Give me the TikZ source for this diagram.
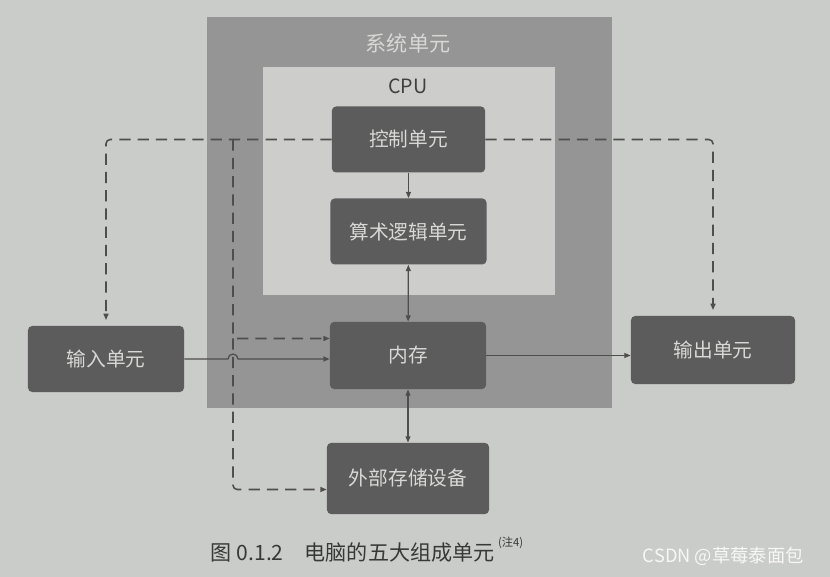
\documentclass[tikz,border=0pt]{standalone}
\usepackage{fontspec}
\setmainfont{Noto Sans CJK SC}
\usetikzlibrary{arrows.meta,calc}

\definecolor{paper}{RGB}{202,204,201}
\definecolor{sysgray}{RGB}{148,149,148}
\definecolor{cpugray}{RGB}{205,206,204}
\definecolor{unitgray}{RGB}{92,92,92}
\definecolor{unittext}{RGB}{216,216,214}
\definecolor{wiregray}{RGB}{78,78,78}

\tikzset{
  unit/.style={draw=none, fill=unitgray, rounded corners=3pt, text=unittext,
    minimum width=3.9cm, minimum height=1.65cm, font=\fontsize{14}{16}\selectfont},
  wire/.style={draw=wiregray, line width=0.9pt},
  ctrlwire/.style={draw=wiregray, line width=1.1pt, dash pattern=on 8pt off 5pt,
    rounded corners=3pt},
}

\begin{document}
\begin{tikzpicture}[x=0.025cm, y=0.025cm, >={Triangle[length=4.5pt,width=3.5pt]}]
  % Paper and fixed frame
  \fill[paper] (0,0) rectangle (830,577);
  \useasboundingbox (0,0) rectangle (830,577);

  % System unit and CPU frames
  \fill[sysgray] (207,169) rectangle (612,560);
  \node[text=unittext, font=\fontsize{15}{17}\selectfont] (syslabel) at (408,534) {系统单元};
  \fill[cpugray] (263,282) rectangle (555,510);
  \node[text=black!75, font=\fontsize{14}{16}\selectfont] (cpulabel) at (408,491) {CPU};

  % The five units
  \node[unit, minimum width=3.83cm] (ctrl) at (408.5,437.5) {控制单元};
  \node[unit] (alu) at (408.5,345.5) {算术逻辑单元};
  \node[unit, minimum height=1.68cm] (mem) at (408,221.5) {内存};
  \node[unit, minimum width=4.05cm, minimum height=1.78cm] (ext) at (408,98.5) {外部存储设备};
  \node[unit] (in) at (106,218) {输入单元};
  \node[unit, minimum width=4.1cm, minimum height=1.7cm] (out) at (713,227) {输出单元};

  % Data paths
  \draw[wire,->] (ctrl) -- (alu);
  \draw[wire,<->] (alu) -- (mem);
  \draw[wire,<->] (mem) -- (ext);
  \coordinate (tap) at (233,0 |- ctrl.west);
  \draw[wire,->] (in.east) -- ($(tap |- in.east)+(-5,0)$)
    arc[start angle=180, end angle=0, radius=0.125cm] -- (mem.west |- in.east);
  \draw[wire,->] (mem.east) -- (out.west |- mem.east);

  % Control signals (dashed)
  \draw[ctrlwire,->,shorten >=4pt] (ctrl.west) -| (in.north);
  \draw[ctrlwire,->,shorten >=4pt] (ctrl.east) -| (out.north);
  \coordinate (split) at ($(tap |- mem.west)+(0,17)$);
  \draw[ctrlwire,->] (tap) |- (mem.west |- split);
  \draw[ctrlwire,->] (split) |- ($(ext.west)+(0,-11)$);

  % Caption and watermark
  \node[anchor=west, text=black!78, font=\fontsize{15}{17}\selectfont] (caption) at (206,27)
    {图 0.1.2\hspace{1em}电脑的五大组成单元\,\raisebox{1.2ex}{\fontsize{8}{9}\selectfont (注4)}};
  \node[anchor=west, text=white!94!gray, font=\fontsize{13}{15}\selectfont] (mark) at (638,21)
    {CSDN @草莓泰面包};
\end{tikzpicture}
\end{document}
